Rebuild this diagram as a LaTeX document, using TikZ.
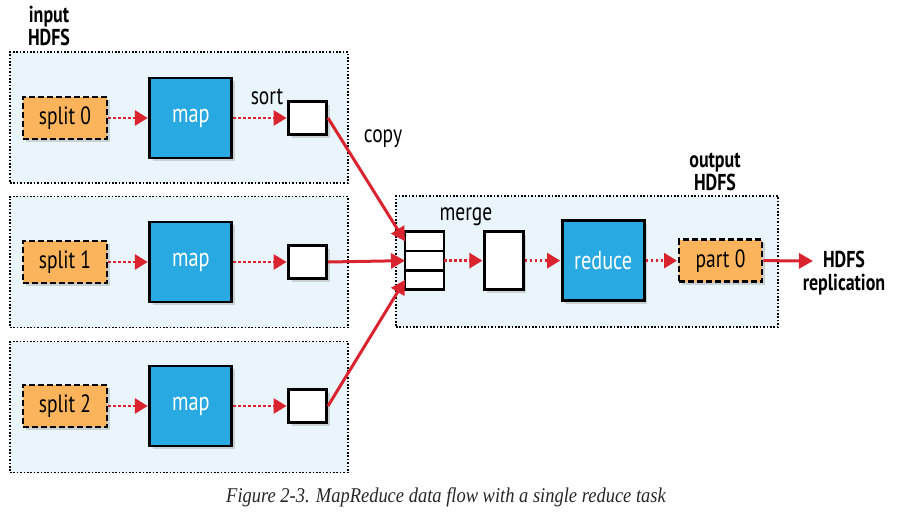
\documentclass[tikz,border=0pt]{standalone}
\usepackage{fontspec}
\setmainfont{PT Sans}[FakeStretch=0.78]
\newfontfamily\capfont{Liberation Serif}[FakeStretch=0.88]
\usetikzlibrary{positioning,arrows.meta,shadows}
\definecolor{mapblue}{HTML}{29A9E1}
\definecolor{splitorange}{HTML}{FBB45C}
\definecolor{paleblue}{HTML}{E9F5FB}
\definecolor{flowred}{HTML}{D9232E}
\tikzset{
  groupbox/.style={draw, line width=0.8pt, dash pattern=on 0.8pt off 0.9pt, fill=paleblue,
    minimum width=169pt, minimum height=65.5pt},
  boxshadow/.style={drop shadow={shadow xshift=1.5pt, shadow yshift=-1.5pt, opacity=0.3}},
  splitbox/.style={draw, line width=1.4pt, dash pattern=on 3pt off 1.5pt, fill=splitorange,
    boxshadow, minimum width=42pt, minimum height=21pt, font=\fontsize{12.5}{13}\selectfont},
  mapbox/.style={draw, line width=1.4pt, fill=mapblue, text=white, boxshadow,
    minimum width=41pt, minimum height=40pt, font=\fontsize{13}{14}\selectfont},
  bufbox/.style={draw, line width=1.4pt, fill=white, boxshadow,
    minimum width=19pt, minimum height=16.5pt},
  cell/.style={draw, line width=1.4pt, fill=white, outer sep=0pt,
    minimum width=19.5pt, minimum height=9.67pt},
  lab/.style={font=\fontsize{12.5}{13}\selectfont},
  heading/.style={font=\bfseries\fontsize{11.5}{11.5}\selectfont, align=center},
  flowdot/.style={draw=flowred, line width=1.4pt, dash pattern=on 1.3pt off 1.2pt,
    -{Triangle[length=6.5pt,width=7.5pt]}, shorten >=0.3pt},
  copyarrow/.style={draw=flowred, line width=1.5pt, -{Triangle[length=7pt,width=7.5pt]}},
}
\begin{document}
\begin{tikzpicture}[x=0.5pt,y=-0.5pt]
\useasboundingbox (0,0) rectangle (907,526);
% map side
\node[groupbox] (g0) at (179,117.5) {};
\node[groupbox] (g1) at (179,262) {};
\node[groupbox] (g2) at (179,407) {};
\node[heading] (inhdfs) at (49,26) {input\\HDFS};
\foreach \i/\y in {0/118,1/262,2/406} {
  \node[splitbox] (split\i) at (65,\y) {split \i};
  \node[mapbox, right=20pt of split\i] (map\i) {map};
  \node[bufbox, right=27pt of map\i] (buf\i) {};
  \draw[flowdot] (split\i) -- (map\i);
  \draw[flowdot] (map\i) -- (buf\i);
}
\node[lab] (sortlab) at (267,97) {sort};
% reduce side
\node[groupbox, minimum width=191pt] (gr) at (587,261.5) {};
\node[heading] (outhdfs) at (715,172) {output\\HDFS};
\node[cell] (q1) at (424.5,241.3) {};
\node[cell, below=0pt of q1] (q2) {};
\node[cell, below=0pt of q2] (q3) {};
\node[bufbox, minimum width=19.5pt, minimum height=29pt, right=19.5pt of q2] (seg) {};
\node[mapbox, right=18pt of seg] (reduce) {reduce};
\node[splitbox, minimum width=41.5pt, right=16pt of reduce] (part0) {part 0};
\node[lab] (mergelab) at (466,217) {merge};
\node[lab] (copylab) at (383,139) {copy};
\node[heading] (repl) at (844,273) {HDFS\\replication};
\coordinate (replin) at (813,261);
\draw[flowdot] (q2) -- (seg);
\draw[flowdot] (seg) -- (reduce);
\draw[flowdot] (reduce) -- (part0);
\draw[copyarrow] (buf0.east) -- (q1.west);
\draw[copyarrow] (buf1.east) -- (q2.west);
\draw[copyarrow] (buf2.east) -- (q3.west);
\draw[copyarrow] (part0.east) -- (replin);
% caption
\node[font=\capfont\itshape\fontsize{10.5}{12}\selectfont, text=black!85] (cap) at (446,497)
  {Figure 2-3. MapReduce data flow with a single reduce task};
\end{tikzpicture}
\end{document}
